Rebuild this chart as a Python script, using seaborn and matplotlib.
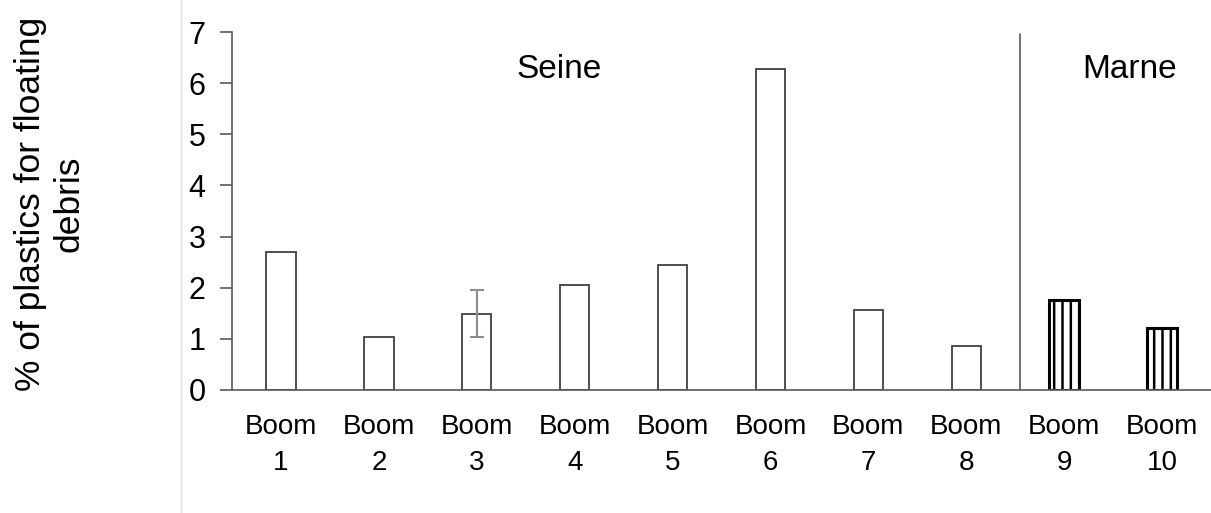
import pandas as pd
import seaborn as sns
import matplotlib.pyplot as plt
from matplotlib.lines import Line2D

booms = ['Boom\n1', 'Boom\n2', 'Boom\n3', 'Boom\n4', 'Boom\n5',
         'Boom\n6', 'Boom\n7', 'Boom\n8', 'Boom\n9', 'Boom\n10']
rivers = ['Seine'] * 8 + ['Marne'] * 2
plastics = [2.70, 1.04, 1.49, 2.05, 2.45, 6.28, 1.57, 0.86, 1.76, 1.21]
err_boom = 'Boom\n3'
err_low, err_high = 1.03, 1.95

df = pd.DataFrame({'boom': booms, 'pct': plastics, 'river': rivers})

sns.set_style('white')
plt.rcParams['font.family'] = ['Liberation Sans', 'DejaVu Sans']
plt.rcParams['text.color'] = 'black'
plt.rcParams['axes.labelcolor'] = 'black'
plt.rcParams['xtick.color'] = 'black'
plt.rcParams['ytick.color'] = 'black'
plt.rcParams['hatch.linewidth'] = 1.8

fig = plt.figure(figsize=(12.11, 5.13), dpi=100)
ax = fig.add_axes([0.1916, 0.2398, 0.8084, 0.6978])

sns.barplot(data=df, x='boom', y='pct', color='white', width=0.3,
            edgecolor='#404040', linewidth=1.3, ax=ax)

for patch, river in zip(ax.patches, df['river']):
    if river == 'Marne':
        patch.set_hatch('||')
        patch.set_edgecolor('black')
        patch.set_linewidth(2.2)

# error bar on boom 3
i = booms.index(err_boom)
mid = plastics[i]
ax.errorbar(i, mid, yerr=[[mid - err_low], [err_high - mid]], fmt='none',
            ecolor='#8c8c8c', elinewidth=1.5, capsize=5, capthick=1.5)

# separator between Seine and Marne
ax.axvline(7.55, ymin=0, ymax=0.995, color='#595959', lw=1.2)
ax.text(2.84, 6.26, 'Seine', fontsize=24, ha='center', va='center')
ax.text(8.67, 6.26, 'Marne', fontsize=24, ha='center', va='center')

ax.set_xlim(-0.5, 9.5)
ax.set_ylim(0, 7)
ax.set_yticks(range(0, 8))
ax.tick_params(axis='y', labelsize=22, length=9, width=1.2, color='#595959',
               labelcolor='black', direction='out', left=True, pad=10)
ax.tick_params(axis='x', labelsize=20, length=0, pad=17, labelcolor='black')
for lab in ax.get_xticklabels():
    lab.set_linespacing(1.5)
ax.set_xlabel('')
ax.set_ylabel('% of plastics for floating\ndebris', fontsize=25.5, va='center')
ax.yaxis.set_label_coords(-0.186, 0.52)

sns.despine(ax=ax)
for s in ['left', 'bottom']:
    ax.spines[s].set_color('#595959')
    ax.spines[s].set_linewidth(1.2)

fig.add_artist(Line2D([181 / 1211, 181 / 1211], [0, 1], color='#e0e0e0', lw=1))

fig.savefig('out.png', dpi=100)
